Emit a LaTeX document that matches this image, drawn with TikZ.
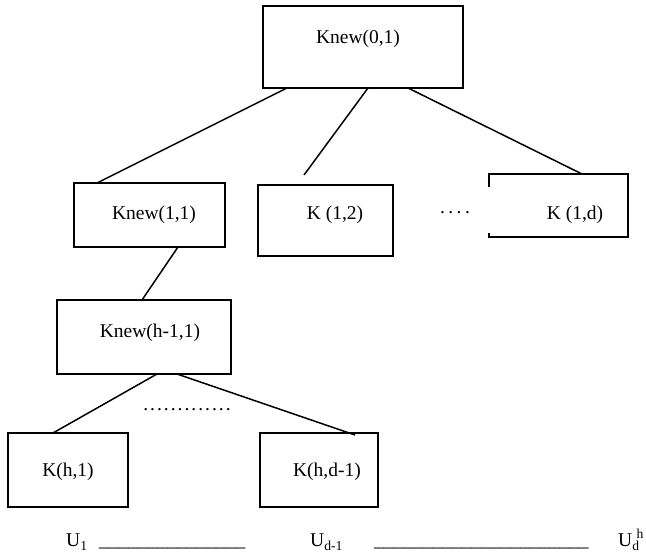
\documentclass[tikz,border=0pt]{standalone}
\usepackage{fontspec}
\setmainfont{Liberation Serif}
\tikzset{
  boxline/.style={line width=1.6pt},
  box/.style={draw, boxline, inner sep=0pt, outer sep=0pt},
  txt/.style={inner sep=0pt, font=\fontsize{19.5}{23}\selectfont},
  conn/.style={line width=1.5pt},
}
\begin{document}
\begin{tikzpicture}[x=1pt,y=-1pt]
\useasboundingbox (0,0) rectangle (646,553);
% boxes
\node[box, minimum width=200pt, minimum height=82pt] (n0) at (363,47) {};
\node[box, minimum width=151pt, minimum height=64pt] (n11) at (149.5,215) {};
\node[box, minimum width=135pt, minimum height=71pt] (n12) at (325.5,220.5) {};
\node[inner sep=0pt, outer sep=0pt, minimum width=139pt, minimum height=63pt] (n1d) at (558.5,205.5) {};
\node[box, minimum width=174pt, minimum height=74pt] (nh1) at (144,337) {};
\node[box, minimum width=120pt, minimum height=74pt] (kh1) at (68,470) {};
\node[box, minimum width=118pt, minimum height=74pt] (khd) at (319,470) {};
% K(1,d) box with broken left side
\draw[boxline] ([yshift=-13pt]n1d.north west) -- (n1d.north west) -- (n1d.north east)
  -- (n1d.south east) -- (n1d.south west) -- ([yshift=4pt]n1d.south west);
% texts
\node[txt] (t0) at (358,39) {Knew(0,1)};
\node[txt] (t11) at (154,215) {Knew(1,1)};
\node[txt] (t12) at (335,215) {K (1,2)};
\node[txt] (t1d) at (575,215) {K (1,d)};
\node[txt] (th1) at (150,333) {Knew(h-1,1)};
\node[txt] (tkh1) at (68,472) {K(h,1)};
\node[txt] (tkhd) at (327,472) {K(h,d-1)};
\node[txt] (dots1) at (455,213) {.\hspace{3.5pt}.\hspace{3.5pt}.\hspace{3.5pt}.};
\node[txt] (dots2) at (187,410) {.\hspace{2pt}.\hspace{2pt}.\hspace{2pt}.\hspace{2pt}.\hspace{2pt}.\hspace{2pt}.\hspace{2pt}.\hspace{2pt}.\hspace{2pt}.\hspace{2pt}.\hspace{2pt}.\hspace{2pt}.};
% connectors
\coordinate (c12) at (304,175);
\draw[conn] ([xshift=24pt]n0.south west) -- ([xshift=23pt]n11.north west);
\draw[conn] ([xshift=105pt]n0.south west) -- (c12);
\draw[conn] ([xshift=145pt]n0.south west) -- ([xshift=93pt]n1d.north west);
\draw[conn] ([xshift=104pt]n11.south west) -- ([xshift=85pt]nh1.north west);
\draw[conn] ([xshift=100pt]nh1.south west) -- ([xshift=45pt]kh1.north west);
\draw[conn] ([xshift=120pt]nh1.south west) -- ([xshift=95pt,yshift=-2pt]khd.north west);
% bottom row
\node[txt, anchor=base west] (u1) at (66,547) {U\textsubscript{1}};
\node[txt, anchor=base west] (l1) at (99,547) {\_\_\_\_\_\_\_\_\_\_\_\_\_\_\_};
\node[txt, anchor=base west] (ud1) at (310,547) {U\textsubscript{d-1}};
\node[txt, anchor=base west] (l2) at (374,547) {\_\_\_\_\_\_\_\_\_\_\_\_\_\_\_\_\_\_\_\_\_\_};
\node[txt, anchor=base west] (udh) at (618,547) {U\textsubscript{d}\kern-3pt\raisebox{1pt}{\textsuperscript{h}}};
\end{tikzpicture}
\end{document}
